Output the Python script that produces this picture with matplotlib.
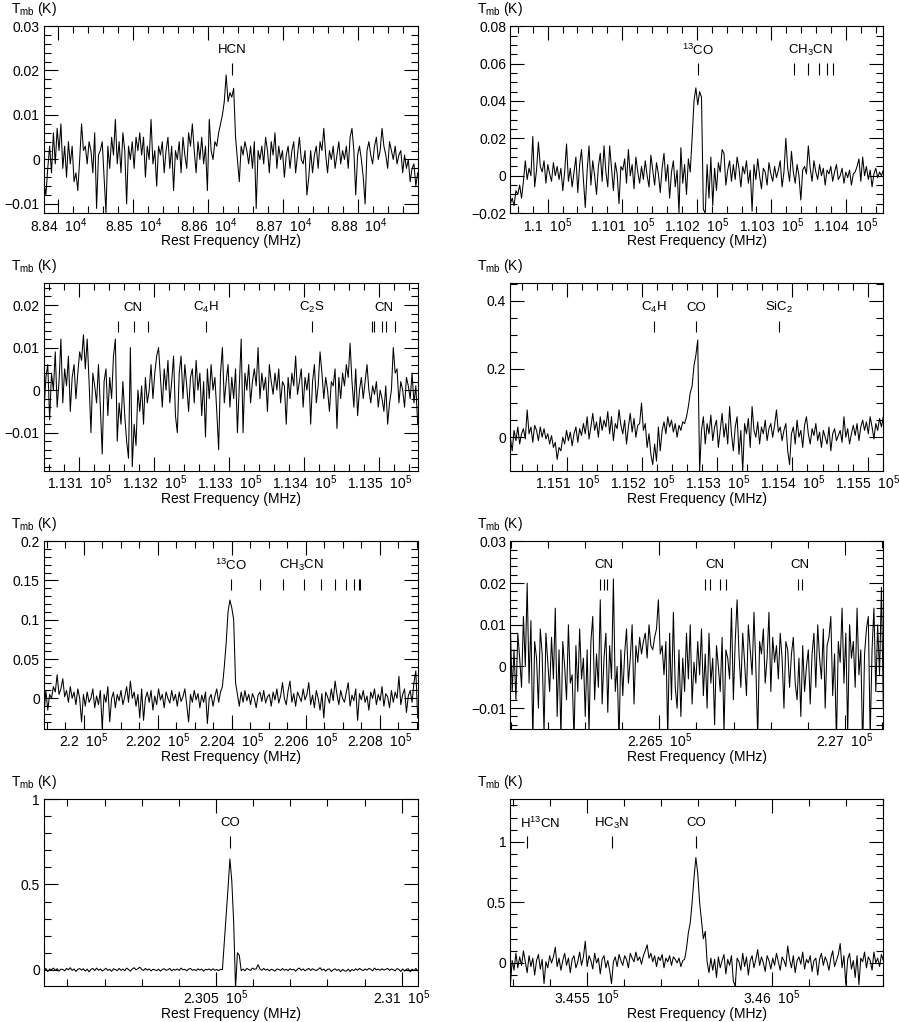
import numpy as np
import matplotlib
matplotlib.use("Agg")
import matplotlib.pyplot as plt
from matplotlib.ticker import MultipleLocator, FuncFormatter

plt.rcParams['font.family'] = ['Liberation Sans', 'DejaVu Sans']
plt.rcParams['mathtext.fontset'] = 'custom'
plt.rcParams['mathtext.rm'] = 'Liberation Sans'
plt.rcParams['mathtext.it'] = 'Liberation Sans:italic'
plt.rcParams['mathtext.bf'] = 'Liberation Sans:bold'

# frequency band of each spectrum (MHz), first and last channel
band_hcn = [88381, 88879]
band_13co10 = [109950, 110450]
band_cn10 = [113053, 113551]
band_co10 = [115024, 115521]
band_13co21 = [219893, 220903]
band_cn21 = [226099, 227103]
band_co21 = [230037, 231043]
band_co32 = [345294, 346302]

# main beam temperature, mK
tmb_hcn = [-5, -8, -2, 3, -3, 6, -1, 7, 2, 8, -2, 3, -4, 4, -1, 3, -5, -3, -7, 0,
           8, 2, 3, -1, 4, 2, -3, 6, -11, 1, 2, 4, -4, -12, 3, -2, 5, 1, 9, -1,
           4, -3, 6, 2, -10, 3, 0, 4, -2, 5, 2, 6, 1, 5, -4, 3, 0, 9, -1, 2,
           -6, 3, 1, 4, -3, 2, 5, -2, 3, -7, 2, 0, 4, -3, 5, 1, -2, 6, 3, 8,
           2, -3, 4, 0, 5, -1, 3, -7, 9, 2, 0, 4, 3, 6, 8, 10, 13, 19, 13, 15,
           14, 16, 5, 0, -5, 3, 1, 4, 2, -1, 3, -2, 4, -11, 2, 0, 3, -1, 5, 2,
           -3, 4, 1, 6, -2, 3, 0, 2, -4, 1, 3, -2, 2, 4, -3, 1, 5, 0, -1, 2,
           -8, -4, 2, -3, 1, 3, -2, 4, 2, 7, 1, -3, 2, 0, 3, -2, 1, 4, -1, 2,
           0, 3, -2, 5, 7, 2, -8, 1, 3, 0, -4, -10, 2, 4, 1, -1, 3, 5, 0, 2,
           7, 3, 1, -2, 4, 2, 0, 3, -1, 1, 2, -3, 1, -2, 0, -5, -2, -1, -6, -3]

tmb_13co10 = [-15, -12, -16, -8, -10, -5, -12, -3, 8, -2, 4, 0, 21, -6, 3, 18, 5, 2, 8, -4,
              6, 1, -3, 7, 0, 5, -2, 4, -8, 2, 17, -3, 4, -6, 2, 10, -9, 6, 14, -2,
              -17, 3, 16, -5, 8, 0, -10, 5, 12, -3, 16, 2, -6, 16, 4, -8, 7, 1, -15, 5,
              3, 9, -4, 14, 0, 6, -7, 10, 2, -4, 5, -2, 8, 0, -6, 11, 3, -5, 7, 1,
              -9, 4, 12, -3, 6, -12, 2, 8, -6, 3, -20, 15, -4, 6, -10, 9, 2, 20, 40, 47,
              38, 45, 42, -18, -20, 6, -12, 10, -16, 4, -8, 7, 2, 14, 12, -5, 3, 8, -3, 6,
              -2, 10, 4, -6, 5, 1, 8, -4, 3, -19, 6, -2, 9, 0, -7, 4, 2, -5, 7, 1,
              -3, 5, -1, 3, 8, -6, 2, 20, 4, -3, 13, 2, -4, 6, 0, -13, 3, 5, 1, 16,
              4, -3, 8, 2, -2, 6, 0, 4, -5, 3, 1, 5, -3, 2, 6, -2, 0, 4, -4, 2,
              -1, 3, -5, 1, 2, 5, 9, -3, 10, 0, 5, -2, 3, -6, 1, 4, -1, 2, 0, 3]

tmb_cn10 = [-5, 3, 6, -7, 4, 0, 9, -4, 2, 12, -3, 5, 1, 8, -5, 3, 6, -2, 4, 9,
            7, 13, 5, 12, 2, -10, 4, 1, -3, 6, -4, -15, 2, 5, -6, 3, -2, 8, 12, -12,
            -3, -8, 2, -6, -12, -16, 10, -18, -8, -13, 0, -5, 1, -8, 3, -3, 0, 6, -2, 4,
            8, 10, 3, -4, 5, 0, 7, -3, 2, 8, -6, -10, 4, 8, -2, 6, 1, -5, 3, 5,
            -3, 7, 0, 4, -6, 2, -11, 5, -2, 6, 0, 3, -5, -14, 4, 10, -3, 2, 6, -4,
            3, -2, 5, -10, 1, 12, -10, 4, 0, 6, -3, 2, 5, 1, 10, -2, 4, 0, 3, -5,
            6, 2, -1, 4, 0, 5, -3, 2, 1, -8, 3, -2, 4, 1, 8, -1, 2, 5, -4, 3,
            0, 4, -8, 2, 6, -3, 1, 9, 4, -2, 3, 0, -5, 2, 1, 5, -9, 3, -2, 4,
            1, 6, 3, 11, 2, -4, 5, -6, 0, 3, -2, 2, 6, 0, -3, 1, -1, 2, -4, 0,
            -2, -5, 1, -8, -3, 0, 10, 4, 5, -3, 2, 0, -4, 3, 1, -2, 4, -3, 1, -8]

tmb_co10 = [0, -40, 20, -10, 30, -20, 10, 25, -5, 80, 10, 30, -15, 35, 20, -10, 30, 0, 25, -5,
            10, -20, 5, -30, -15, -65, -30, -40, 0, -20, 20, -10, 15, -25, 10, 30, -15, 25, 5, 40,
            10, 60, -5, 30, 70, 20, 45, 0, 60, 20, 50, 30, 75, 10, 60, -10, 40, 25, 80, 35,
            10, 50, -20, 30, 70, 15, 55, 0, 35, 40, 100, 20, 40, -30, 10, -50, -80, -20, -70, 30,
            -40, 20, 45, 10, 60, 30, 50, 15, 40, 0, 35, 20, 45, 40, 60, 90, 130, 150, 210, 240,
            285, -100, 20, 60, -20, 40, 10, 65, -10, 30, 50, -30, 20, 70, 0, 40, -20, 90, 10, -40,
            30, 60, -50, 20, -100, 40, 10, 55, -30, 90, 20, 0, 45, -20, 30, 10, 50, -10, 25, 40,
            0, 35, 80, 15, 30, -10, 20, 40, -40, -80, 10, 30, -20, 50, 0, 20, -30, 35, 60, 10,
            -20, 25, 5, 40, -10, 15, -30, 20, 0, -20, 30, -40, 10, 25, -10, 5, 20, -15, 60, 0,
            25, -20, 10, 35, 5, 40, -10, 30, 50, 20, 45, 10, 60, 30, -5, 40, 20, 55, 30, 60]

tmb_13co21 = [-20, 10, -15, 5, 0, 15, 8, 30, 5, 12, 25, 2, 10, -5, 15, 0, 8, -8, 12, 0,
              -30, 5, -10, 8, -5, 0, 12, -12, 3, -8, 10, -38, 5, -5, 15, -30, 0, 8, -12, 5,
              -3, 10, -8, 2, 15, -5, 22, 0, 8, -10, 5, -25, 12, -28, 0, 8, -5, 10, -15, 3,
              -8, 12, -2, 5, -12, 8, 0, -6, 10, -3, 5, -10, 8, -4, 2, 12, -8, -30, 5, -5,
              10, -2, 6, -12, 4, -5, 8, -32, 0, 5, -10, 3, 12, -5, 8, 15, 40, 70, 110, 125,
              115, 100, 20, 5, -10, 8, -5, 10, -3, 5, -8, 6, 0, -12, 4, 8, -4, 10, -6, 2,
              5, -10, 8, -2, 12, -6, 3, 20, 0, -8, 10, 22, -5, 6, -10, 8, 2, -4, 12, -2,
              5, 20, -8, 4, -12, 10, 0, -15, 6, -25, 8, 2, -6, 12, -3, 22, 5, -8, 10, 0,
              -5, 8, 20, -10, 4, -3, 12, -28, 6, -2, 10, -5, 3, -15, 8, 0, 12, -8, 5, -3,
              15, -10, 6, 2, -12, 10, -5, 8, 0, 28, -8, 5, 12, -18, 3, 10, -5, 20, 35, -25]

tmb_cn21 = [10, -6, 4, -8, 8, 2, -5, 12, 0, 20, -4, 11, -18, 6, 2, -10, 9, 3, -16, 8,
            1, -6, 7, -3, 14, -12, 4, -17, 6, 0, -8, 10, -4, -2, -18, 5, -6, 9, -3, 2,
            -12, 4, -16, 6, 12, -8, 3, -5, 16, -9, 2, 8, -11, 5, -3, 21, -6, 0, -18, 4,
            -7, 3, 9, -4, 2, 10, -9, 5, 1, 7, 3, 6, 8, 2, 10, 5, 4, 7, 9, 16,
            3, 5, -2, 6, -17, 8, -8, 13, -5, -10, 4, -12, 2, -6, 8, -3, 10, -9, 1, -4,
            6, -2, 9, -7, 3, -10, 8, -4, 2, -14, 5, 0, -6, 7, -16, 4, 2, -3, 14, -8,
            6, 16, 3, -5, 8, 1, -7, 10, 4, -2, 13, 0, -17, 6, 3, 9, -4, 2, 13, -6,
            7, 1, 5, -3, 8, 2, -10, 6, 4, -5, 3, 7, -4, -8, 2, -12, 5, -6, 0, 4,
            -9, 3, 8, -5, 10, 2, -3, 9, -10, 5, 7, 12, -7, 3, -18, 6, 1, 14, -4, 8,
            -16, 10, 2, 6, -5, 14, -2, 4, -20, 3, 9, 12, -17, 4, 14, -6, 10, -2, 19, -10]

tmb_co21 = [-5, 8, -10, 5, 0, 10, -3, 6, -8, 4, 2, -6, 8, 0, 12, -4, 5, -10, 3, 7,
            -2, 6, -8, 4, -12, 2, 8, -5, 10, -3, 5, -7, 0, 9, -4, 3, -9, 6, 1, -5,
            8, -3, 4, -6, 10, 2, -8, 5, 12, 0, 6, 15, 3, -4, 8, -2, 5, -7, 3, 0,
            -5, 4, -8, 2, 6, -3, 0, 8, -6, 3, -2, 5, -4, 10, 0, 3, -6, 4, 8, -3,
            2, -5, 6, -2, 4, -8, 3, 0, 5, -4, 6, -3, 2, -5, 3, 0, 160, 320, 480, 650,
            520, 280, -110, 100, 85, -5, 4, -6, 8, 2, -4, 10, 3, 6, 30, 5, -3, 8, -2, 4,
            -6, 3, 0, -8, 5, 2, -4, 7, -2, 3, -5, 6, 0, 3, -8, 4, 10, -3, 5, -6,
            2, 8, -4, 6, 0, -5, 3, 12, -2, 4, -8, 3, 5, -10, 0, 6, -4, 2, -12, 3,
            -6, -8, 4, -10, 2, -5, 6, -3, 8, 0, -4, 5, -2, 8, 3, -6, 10, 0, 4, -3,
            6, -2, 3, 8, -4, 5, 0, -6, 7, 2, -10, 5, -8, 3, 6, -12, 4, -5, 8, -6]

tmb_co32 = [-190, 20, -60, 80, -40, 50, -20, 100, 10, -80, 60, -30, 40, -100, 20, 70, -50, 30, -170, 10,
            -40, 60, 0, 50, 130, -30, 40, -60, 20, 80, -20, 40, -80, 30, 60, -40, 10, 90, -20, 50,
            180, -30, 60, 20, -50, 80, 0, 40, -90, 30, 60, -40, 20, -60, -170, 10, 50, -30, 70, 20,
            -20, 60, 30, -40, 80, 40, 10, 90, 20, 50, -10, 60, 100, 150, 40, 80, 10, 60, -30, 50,
            20, 70, -40, 40, 10, 60, -20, 50, 30, 0, 40, -30, 20, 30, 120, 250, 330, 500, 700, 870,
            740, 500, 350, 200, 260, 10, -80, 40, -60, 30, -120, 50, -40, 20, 70, -90, 30, -20, 60, -150,
            -190, 40, 10, -60, 80, -30, 50, -100, 20, 60, -40, 30, 110, -20, 50, 0, -70, 60, 20, -50,
            40, -20, 80, 10, -60, 50, 20, -30, 140, 30, -40, 60, -80, 20, 50, -10, 90, -50, 30, 0,
            60, -70, 20, 40, -100, 30, 80, -20, 50, 10, -60, 40, 100, -30, 20, 70, 160, -40, 60, -180,
            30, 80, -50, 20, -120, 60, -180, 40, 10, 90, -40, 50, 20, -60, 90, 0, 40, -30, 70, 20]

# y limits (K)
ylim_hcn = [-0.0121, 0.03]
ylim_13co10 = [-0.0201, 0.0801]
ylim_cn10 = [-0.019, 0.0251]
ylim_co10 = [-0.099, 0.451]
ylim_13co21 = [-0.039, 0.2001]
ylim_cn21 = [-0.015, 0.0301]
ylim_co21 = [-0.095, 1.001]
ylim_co32 = [-0.19, 1.353]

# line identifications: (label, label position, tick positions) in MHz
lines_hcn = [("HCN", 88631.6, [88631.6])]
lines_13co10 = [("$^{13}$CO", 110201.4, [110201.4]),
                ("CH$_3$CN", 110352, [110330.4, 110349.7, 110364.4, 110375.0, 110382.5])]
lines_cn10 = [("CN", 113171, [113151, 113173, 113191]),
              ("C$_4$H", 113269, [113269]),
              ("C$_2$S", 113410, [113410]),
              ("CN", 113506, [113490, 113492.5, 113503, 113508.6, 113521])]
lines_co10 = [("C$_4$H", 115215, [115215]),
              ("CO", 115271.2, [115271.2]),
              ("SiC$_2$", 115382.4, [115382.4])]
lines_13co21 = [("$^{13}$CO", 220398.7, [220398.7]),
                ("CH$_3$CN", 220589, [220476.2, 220539.3, 220594.4, 220641.1, 220679.3,
                                      220709.0, 220730.3, 220743.0, 220747.3])]
lines_cn21 = [("CN", 226350, [226340, 226351, 226360]),
              ("CN", 226650, [226623, 226636, 226663, 226680]),
              ("CN", 226879, [226874, 226883])]
lines_co21 = [("CO", 230538.0, [230538.0])]
lines_co32 = [("H$^{13}$CN", 345375, [345339.8]),
              ("HC$_3$N", 345569, [345569]),
              ("CO", 345796.0, [345796.0])]

W, H = 899, 1022


def ticks_x(exp):
    return FuncFormatter(lambda v, p: "%g  10$^{%d}$" % (round(v / 10**exp, 4), exp))


def ticks_y(v, p):
    return ("%g" % round(v, 6)).replace("-", "\u2212")


def painel(fig, box, band, tmb, ylim, lines, xmaj, xmin, exp, ymaj, ymin):
    x0, y0, x1, y1 = box
    ax = fig.add_axes([x0 / W, 1 - y1 / H, (x1 - x0) / W, (y1 - y0) / H])
    freq = np.linspace(band[0], band[1], len(tmb))
    ax.plot(freq, np.array(tmb) / 1000.0, color="black", lw=0.75)
    ax.set_xlim(band[0], band[1])
    ax.set_ylim(ylim[0], ylim[1])

    ax.xaxis.set_major_locator(MultipleLocator(xmaj))
    ax.xaxis.set_minor_locator(MultipleLocator(xmin))
    ax.yaxis.set_major_locator(MultipleLocator(ymaj))
    ax.yaxis.set_minor_locator(MultipleLocator(ymin))
    ax.xaxis.set_major_formatter(ticks_x(exp))
    ax.yaxis.set_major_formatter(FuncFormatter(ticks_y))
    ax.tick_params(which="both", direction="in", top=True, right=True,
                   labelsize=10, width=0.8)
    ax.tick_params(which="major", length=10)
    ax.tick_params(which="minor", length=5)
    ax.tick_params(axis="x", pad=2)
    ax.tick_params(axis="y", pad=3)
    for s in ax.spines.values():
        s.set_linewidth(0.8)

    tr = ax.get_xaxis_transform()
    for nome, fpos, fticks in lines:
        ax.vlines(fticks, 0.74, 0.80, transform=tr, color="black", lw=0.8)
        ax.text(fpos, 0.87, nome, transform=tr, ha="center", va="center", fontsize=9.5)

    hgt = y1 - y0
    ax.text(0.5, -27.5 / hgt, "Rest Frequency (MHz)", transform=ax.transAxes,
            ha="center", va="center", fontsize=10)
    fig.text((x0 - 33) / W, 1 - (y0 - 17) / H, "T$_{\\rm mb}$ (K)",
             ha="left", va="center", fontsize=10)
    return ax


def main():
    fig = plt.figure(figsize=(W / 100, H / 100), dpi=100)

    esq = (44, 417.7)
    dir = (510.3, 883.3)
    linhas = [(26, 213.3), (283.3, 471), (541, 729), (799, 986)]

    painel(fig, (esq[0], linhas[0][0], esq[1], linhas[0][1]), band_hcn, tmb_hcn, ylim_hcn,
           lines_hcn, 100, 20, 4, 0.01, 0.002)
    painel(fig, (dir[0], linhas[0][0], dir[1], linhas[0][1]), band_13co10, tmb_13co10, ylim_13co10,
           lines_13co10, 100, 20, 5, 0.02, 0.005)
    painel(fig, (esq[0], linhas[1][0], esq[1], linhas[1][1]), band_cn10, tmb_cn10, ylim_cn10,
           lines_cn10, 100, 20, 5, 0.01, 0.002)
    painel(fig, (dir[0], linhas[1][0], dir[1], linhas[1][1]), band_co10, tmb_co10, ylim_co10,
           lines_co10, 100, 20, 5, 0.2, 0.05)
    painel(fig, (esq[0], linhas[2][0], esq[1], linhas[2][1]), band_13co21, tmb_13co21, ylim_13co21,
           lines_13co21, 200, 50, 5, 0.05, 0.01)
    painel(fig, (dir[0], linhas[2][0], dir[1], linhas[2][1]), band_cn21, tmb_cn21, ylim_cn21,
           lines_cn21, 500, 100, 5, 0.01, 0.002)
    painel(fig, (esq[0], linhas[3][0], esq[1], linhas[3][1]), band_co21, tmb_co21, ylim_co21,
           lines_co21, 500, 100, 5, 0.5, 0.1)
    painel(fig, (dir[0], linhas[3][0], dir[1], linhas[3][1]), band_co32, tmb_co32, ylim_co32,
           lines_co32, 500, 100, 5, 0.5, 0.1)

    fig.savefig("out.png", dpi=100)


if __name__ == '__main__':
    main()
